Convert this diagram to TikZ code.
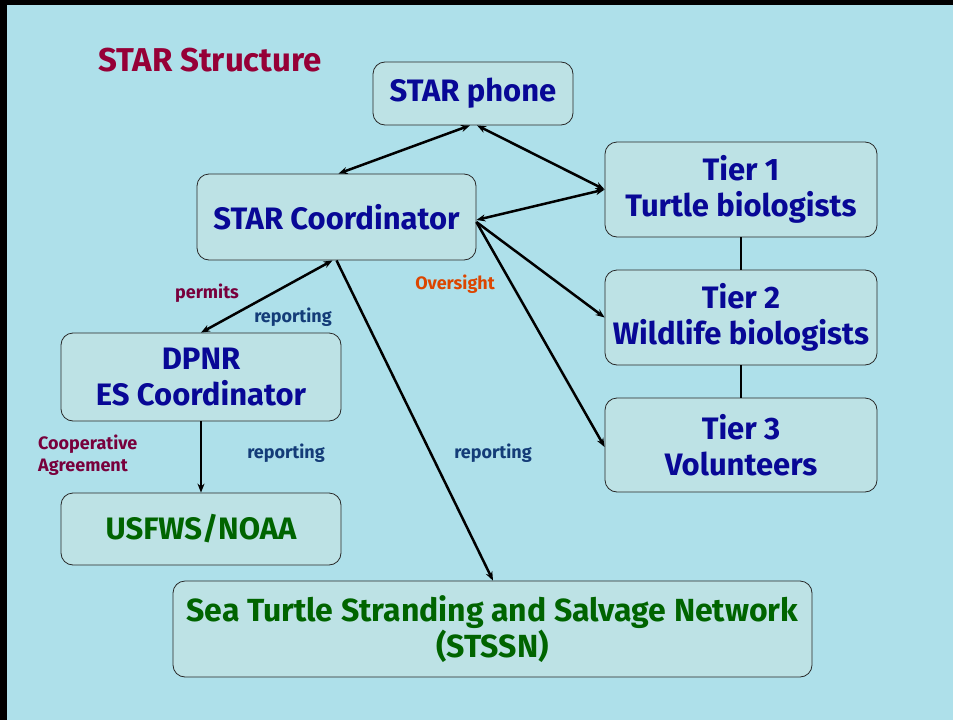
\documentclass[tikz,border=0pt]{standalone}
\usepackage{fontspec}
\setmainfont{Fira Sans}
\usetikzlibrary{arrows.meta,calc}
\definecolor{bgc}{RGB}{174,224,234}
\definecolor{boxc}{RGB}{189,226,229}
\definecolor{boxedge}{RGB}{40,40,40}
\definecolor{navy}{RGB}{8,8,150}
\definecolor{dgreen}{RGB}{0,100,0}
\definecolor{crimson}{RGB}{150,0,55}
\definecolor{maroon}{RGB}{120,0,60}
\definecolor{repblue}{RGB}{20,60,120}
\definecolor{orng}{RGB}{220,70,0}
\tikzset{
  box/.style={draw=boxedge, line width=0.8pt, fill=boxc, rounded corners=12pt, align=center, inner sep=0pt},
  bluetxt/.style={text=navy, font=\fontsize{31}{36}\selectfont\bfseries},
  greentxt/.style={text=dgreen, font=\fontsize{31}{36}\selectfont\bfseries},
  conn/.style={line width=2.5pt, black},
  tipb/.style={conn, {Stealth[length=9pt,width=7pt]}-{Stealth[length=9pt,width=7pt]}},
  tipe/.style={conn, -{Stealth[length=9pt,width=7pt]}},
  lbl/.style={font=\fontsize{18}{22}\selectfont\bfseries, inner sep=0pt}
}
\begin{document}
\begin{tikzpicture}[x=1pt,y=-1pt]
\useasboundingbox (0,0) rectangle (953,720);
\fill[bgc] (0,0) rectangle (953,720);
\fill[black] (0,0) rectangle (953,5);
\fill[black] (0,0) rectangle (7,720);

\node[text=crimson, font=\fontsize{33}{38}\selectfont\bfseries, inner sep=0pt] (title) at (210,60) {STAR Structure};

\node[box, bluetxt, minimum width=200pt, minimum height=63pt] (phone) at (473,93.5) {STAR phone};
\node[box, bluetxt, minimum width=279pt, minimum height=86pt] (coord) at (336.5,217) {STAR Coordinator};
\node[box, bluetxt, minimum width=272pt, minimum height=95pt] (tier1) at (741,189.5) {Tier 1\\Turtle biologists};
\node[box, bluetxt, minimum width=272pt, minimum height=95pt] (tier2) at (741,317.5) {Tier 2\\Wildlife biologists};
\node[box, bluetxt, minimum width=272pt, minimum height=94pt] (tier3) at (741,445) {Tier 3\\Volunteers};
\node[box, bluetxt, minimum width=280pt, minimum height=88pt] (dpnr) at (201,377) {DPNR\\ES Coordinator};
\node[box, greentxt, minimum width=280pt, minimum height=72pt] (usfws) at (201,529) {USFWS/NOAA};
\node[box, greentxt, font=\fontsize{32}{36}\selectfont\bfseries, minimum width=639pt, minimum height=96pt] (stssn) at (492.5,629) {Sea Turtle Stranding and Salvage Network\\(STSSN)};

\draw[tipb] ([xshift=2pt]coord.north) -- ([xshift=-3pt]phone.south);
\draw[tipb] ([xshift=4pt]phone.south) -- (tier1.west);
\draw[tipb] (tier1.west) -- ([yshift=-3pt]coord.east);
\draw[tipe] ([yshift=-5pt]coord.east) -- (tier2.west);
\draw[tipe] ([yshift=-5pt]coord.east) -- ([yshift=-2pt]tier3.west);
\draw[tipe] (coord.south) -- ([xshift=0.5pt]stssn.north);
\draw[tipb] ([xshift=-4pt]coord.south) -- (dpnr.north);
\draw[tipe] (dpnr.south) -- (usfws.north);
\draw[line width=1.5pt] (tier1.south) -- (tier2.north);
\draw[line width=1.5pt] (tier2.south) -- (tier3.north);

\node[lbl, text=maroon] (permits) at (207,293) {permits};
\node[lbl, text=repblue] (rep1) at (293,317) {reporting};
\node[lbl, text=orng] (over) at (455,284) {Oversight};
\node[lbl, text=maroon, align=left, anchor=west] (coop) at (38,455) {Cooperative\\Agreement};
\node[lbl, text=repblue] (rep2) at (286,453) {reporting};
\node[lbl, text=repblue] (rep3) at (493,453) {reporting};
\end{tikzpicture}
\end{document}
